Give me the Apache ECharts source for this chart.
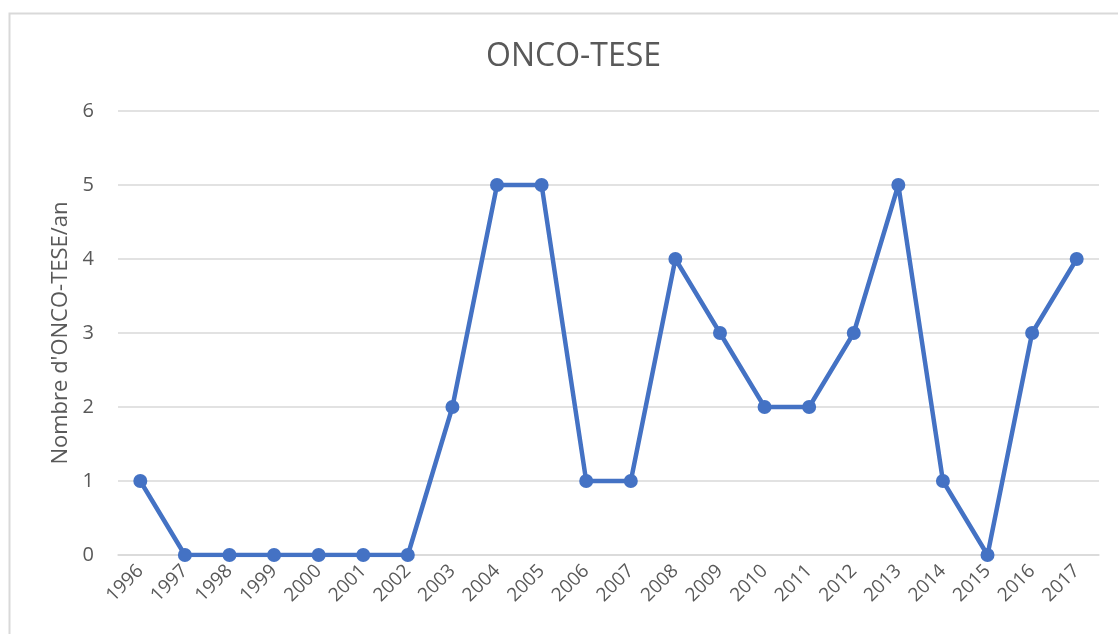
<!DOCTYPE html>
<html><head><meta charset="utf-8">
<script src="https://cdn.jsdelivr.net/npm/echarts@6/dist/echarts.min.js"></script>
<style>html,body{margin:0;padding:0;background:#fff}#c{width:1118px;height:634px}</style>
</head><body><div id="c"></div>
<script>
const years = ['1996','1997','1998','1999','2000','2001','2002','2003','2004','2005','2006','2007','2008','2009','2010','2011','2012','2013','2014','2015','2016','2017'];
const counts = [1,0,0,0,0,0,0,2,5,5,1,1,4,3,2,2,3,5,1,0,3,4];
const titleText = 'ONCO-TESE';
const yAxisName = "Nombre d'ONCO-TESE/an";

const chart = echarts.init(document.getElementById('c'), null, {renderer:'canvas'});
chart.setOption({
  animation:false,
  textStyle:{fontFamily:'Open Sans, Noto Sans, sans-serif'},
  graphic:[{type:'rect',shape:{x:9.5,y:13.5,width:1200,height:700},style:{fill:'none',stroke:'#d9d9d9',lineWidth:2}}],
  title:{text:titleText,left:481,top:36,textStyle:{fontSize:32,fontWeight:'normal',color:'#595959',fontFamily:'Open Sans, Noto Sans, sans-serif'}},
  grid:{left:118,right:19,top:111,bottom:79},
  xAxis:{type:'category',data:years,boundaryGap:true,
    axisLine:{show:true,lineStyle:{color:'#d9d9d9',width:1.5}},
    axisTick:{show:false},
    axisLabel:{rotate:45,color:'#595959',fontSize:19,margin:13,interval:0}},
  yAxis:{type:'value',min:0,max:6,interval:1,
    name:yAxisName,nameLocation:'middle',nameGap:45,nameRotate:90,
    nameTextStyle:{fontSize:22,color:'#595959'},
    axisLine:{show:false},axisTick:{show:false},
    axisLabel:{color:'#595959',fontSize:20,margin:24},
    splitLine:{lineStyle:{color:'#d9d9d9',width:1.5}}},
  series:[{type:'line',data:counts,symbol:'circle',symbolSize:14,
    lineStyle:{color:'#4472C4',width:4.5},itemStyle:{color:'#4472C4'}}]
});
</script></body></html>
